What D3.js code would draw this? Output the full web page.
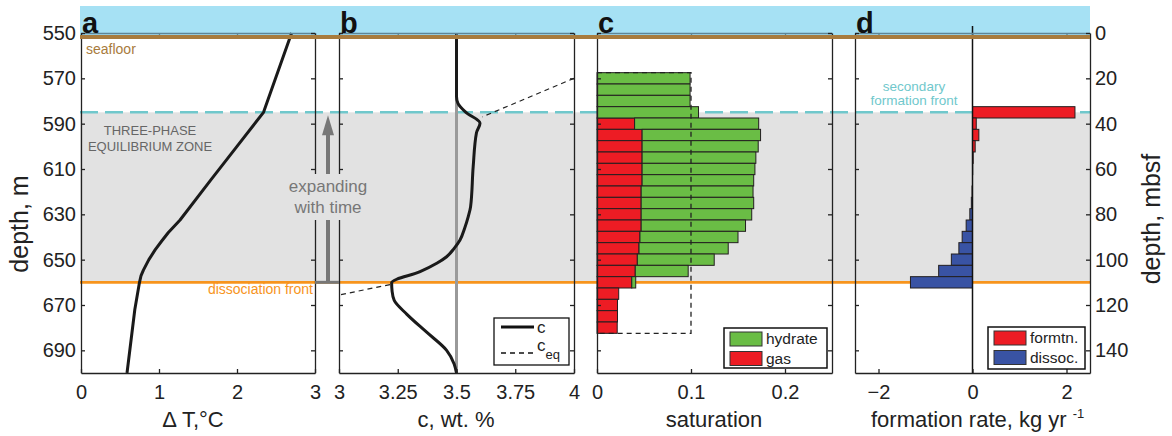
<!DOCTYPE html>
<html>
<head>
<meta charset="utf-8">
<script src="https://cdn.jsdelivr.net/npm/d3@7"></script>
<style>
body { margin: 0; background: #fff; }
svg { display: block; font-family: "Liberation Sans", Arial, Helvetica, sans-serif; }
.axis text { font-size: 20px; fill: #222; font-family: "Liberation Sans", Arial, sans-serif; }
.axis path, .axis line { stroke: #222; stroke-width: 1.3; }
.topaxis path, .topaxis line { stroke: #5e8596; }
</style>
</head>
<body>
<svg width="1172" height="436"></svg>
<script>

// depth axis (m) and the matching mbsf axis
var depthTicks = [550, 570, 590, 610, 630, 650, 670, 690];
var mbsfTicks = [0, 20, 40, 60, 80, 100, 120, 140];
var seafloorDepth = 551.8, secondaryFront = 585, dissocFront = 660;

// panel a: temperature offset
var dtDepth = [550, 585, 600, 615, 632.5, 638, 642, 645.7, 650, 654.6, 657, 660, 672, 700];
var dtValue = [2.70, 2.34, 2.0, 1.66, 1.27, 1.12, 1.03, 0.95, 0.87, 0.80, 0.77, 0.75, 0.69, 0.59];

// panel b: salinity c and equilibrium c_eq
var cDepth = [550, 578, 581, 585, 589.8, 594, 609, 626.6, 631, 636, 641.3, 645, 648.7, 651.6, 655.3, 660.2, 664, 668, 674, 682, 690, 696, 700];
var cValue = [3.5, 3.5, 3.506, 3.54, 3.60, 3.585, 3.571, 3.56, 3.55, 3.535, 3.515, 3.49, 3.458, 3.416, 3.345, 3.224, 3.226, 3.235, 3.288, 3.373, 3.458, 3.49, 3.5];
var ceqDepth = [570, 587, NaN, 661, 665.6];
var ceqValue = [4.0, 3.61, NaN, 3.217, 3.0];
var cInitial = 3.5;

// panel c: saturation per 5 m cell
var barDepth = [570, 575, 580, 585, 590, 595, 600, 605, 610, 615, 620, 625, 630, 635, 640, 645, 650, 655, 660, 665, 670, 675, 680];
var gas = [0, 0, 0, 0, 0.040, 0.048, 0.048, 0.048, 0.048, 0.048, 0.047, 0.047, 0.047, 0.047, 0.0457, 0.0447, 0.0429, 0.0407, 0.037, 0.0231, 0.0218, 0.0218, 0.0215];
var hydrate = [0.099, 0.099, 0.099, 0.108, 0.132, 0.126, 0.1235, 0.121, 0.120, 0.1187, 0.119, 0.1197, 0.1176, 0.111, 0.1043, 0.0949, 0.0818, 0.0563, 0.0042, 0, 0, 0, 0];
var initSat = 0.1, initTop = 567.5, initBottom = 682.5;

// panel d: formation rate per cell
var formRate = [0, 0, 0, 2.18, 0.08, 0.135, 0.057, 0.015, 0.005, 0, -0.01, -0.025, -0.057, -0.135, -0.22, -0.29, -0.45, -0.72, -1.32, 0, 0, 0, 0];

var svg = d3.select("svg");
var cellH = 5;

var y = d3.scaleLinear().domain([550, 700]).range([33, 373]);
var yMbsf = d3.scaleLinear().domain([0, 150]).range([33, 373]);

var xA = d3.scaleLinear().domain([0, 3]).range([81, 315]);
var xB = d3.scaleLinear().domain([3, 4]).range([339, 574]);
var xC = d3.scaleLinear().domain([0, 0.25]).range([597, 832]);
var xD = d3.scaleLinear().domain([-2.5, 2.5]).range([855, 1090]);

var fmt = d3.format("~g");
var left = 80, right = 1090;

// sea water and three-phase zone
svg.append("rect").attr("x", left).attr("y", 6).attr("width", right - left).attr("height", 30)
    .attr("fill", "#a6e1f4");
svg.append("rect").attr("x", left).attr("y", y(secondaryFront))
    .attr("width", right - left).attr("height", y(dissocFront) - y(secondaryFront))
    .attr("fill", "#e2e2e2");

// front lines (behind the data)
svg.append("line").attr("x1", left).attr("x2", right)
    .attr("y1", y(secondaryFront)).attr("y2", y(secondaryFront))
    .attr("stroke", "#70c8cc").attr("stroke-width", 2.5).attr("stroke-dasharray", "18,7");
svg.append("line").attr("x1", left).attr("x2", right)
    .attr("y1", y(dissocFront)).attr("y2", y(dissocFront))
    .attr("stroke", "#f7941d").attr("stroke-width", 2.7);

// axes for one panel
function drawFrame(x, ticks, labels) {
    svg.append("g").attr("class", "axis").attr("transform", "translate(0,373)")
        .call(d3.axisBottom(x).tickValues(ticks).tickSize(-4).tickSizeOuter(0).tickPadding(12)
            .tickFormat(fmt));
    svg.append("g").attr("class", "axis topaxis").attr("transform", "translate(0,33)")
        .call(d3.axisTop(x).tickValues(ticks).tickSize(-4).tickSizeOuter(0).tickFormat(""));
    svg.append("g").attr("class", "axis").attr("transform", "translate(" + x.range()[0] + ",0)")
        .call(d3.axisLeft(y).tickValues(depthTicks).tickSize(-4).tickSizeOuter(0).tickPadding(5)
            .tickFormat(labels === "left" ? fmt : ""));
    var r = svg.append("g").attr("class", "axis").attr("transform", "translate(" + x.range()[1] + ",0)");
    if (labels === "right") {
        r.call(d3.axisRight(yMbsf).tickValues(mbsfTicks).tickSize(-4).tickSizeOuter(0).tickPadding(5));
    } else {
        r.call(d3.axisRight(y).tickValues(depthTicks).tickSize(-4).tickSizeOuter(0).tickFormat(""));
    }
}

// ---- panel a
svg.append("path")
    .datum(dtDepth.map(function (d, i) { return [dtValue[i], d]; }))
    .attr("fill", "none").attr("stroke", "#1a1a1a").attr("stroke-width", 3).attr("stroke-linejoin", "round")
    .attr("d", d3.line()
        .x(function (d) { return xA(d[0]); }).y(function (d) { return y(d[1]); }));
drawFrame(xA, [0, 1, 2, 3], "left");

// ---- panel b
svg.append("line").attr("x1", xB(cInitial)).attr("x2", xB(cInitial)).attr("y1", 33).attr("y2", 373)
    .attr("stroke", "#9a9a9a").attr("stroke-width", 3);
svg.append("path")
    .datum(ceqDepth.map(function (d, i) { return [ceqValue[i], d]; }))
    .attr("fill", "none").attr("stroke", "#222").attr("stroke-width", 1.2).attr("stroke-dasharray", "5,4")
    .attr("d", d3.line().defined(function (d) { return !isNaN(d[1]); })
        .x(function (d) { return xB(d[0]); }).y(function (d) { return y(d[1]); }));
svg.append("path")
    .datum(cDepth.map(function (d, i) { return [cValue[i], d]; }))
    .attr("fill", "none").attr("stroke", "#1a1a1a").attr("stroke-width", 3)
    .attr("d", d3.line().curve(d3.curveMonotoneY)
        .x(function (d) { return xB(d[0]); }).y(function (d) { return y(d[1]); }));
drawFrame(xB, [3, 3.25, 3.5, 3.75, 4], "none");

// ---- panel c
var cells = barDepth.map(function (d, i) { return { depth: d, gas: gas[i], hyd: hydrate[i], rate: formRate[i] }; });
svg.append("g").selectAll("rect").data(cells.filter(function (d) { return d.gas > 0; }))
    .enter().append("rect")
    .attr("x", xC(0)).attr("y", function (d) { return y(d.depth - cellH / 2); })
    .attr("width", function (d) { return xC(d.gas) - xC(0); })
    .attr("height", function (d) { return y(d.depth + cellH / 2) - y(d.depth - cellH / 2); })
    .attr("fill", "#ed1c24").attr("stroke", "#231f20").attr("stroke-width", 1);
svg.append("g").selectAll("rect").data(cells.filter(function (d) { return d.hyd > 0; }))
    .enter().append("rect")
    .attr("x", function (d) { return xC(d.gas); }).attr("y", function (d) { return y(d.depth - cellH / 2); })
    .attr("width", function (d) { return xC(d.gas + d.hyd) - xC(d.gas); })
    .attr("height", function (d) { return y(d.depth + cellH / 2) - y(d.depth - cellH / 2); })
    .attr("fill", "#6abd45").attr("stroke", "#231f20").attr("stroke-width", 1);
svg.append("path")
    .attr("d", "M" + xC(0) + "," + y(initTop) + "H" + xC(initSat) + "V" + y(initBottom) + "H" + xC(0))
    .attr("fill", "none").attr("stroke", "#222").attr("stroke-width", 1.3).attr("stroke-dasharray", "5,4");
drawFrame(xC, [0, 0.1, 0.2], "none");

// ---- panel d
svg.append("g").selectAll("rect").data(cells.filter(function (d) { return d.rate !== 0; }))
    .enter().append("rect")
    .attr("x", function (d) { return xD(Math.min(0, d.rate)); })
    .attr("y", function (d) { return y(d.depth - cellH / 2); })
    .attr("width", function (d) { return Math.abs(xD(d.rate) - xD(0)); })
    .attr("height", function (d) { return y(d.depth + cellH / 2) - y(d.depth - cellH / 2); })
    .attr("fill", function (d) { return d.rate > 0 ? "#ed1c24" : "#3953a4"; })
    .attr("stroke", "#231f20").attr("stroke-width", 1);
svg.append("line").attr("x1", xD(0)).attr("x2", xD(0)).attr("y1", 26).attr("y2", 373)
    .attr("stroke", "#111").attr("stroke-width", 1.5);
drawFrame(xD, [-2, 0, 2], "right");

// seafloor
svg.append("line").attr("x1", left).attr("x2", right)
    .attr("y1", y(seafloorDepth)).attr("y2", y(seafloorDepth))
    .attr("stroke", "#a87b3d").attr("stroke-width", 4);

// "expanding with time" arrow between a and b
var ax = 328;
svg.append("line").attr("x1", ax).attr("x2", ax).attr("y1", y(dissocFront)).attr("y2", y(secondaryFront) + 20)
    .attr("stroke", "#777").attr("stroke-width", 4);
svg.append("path")
    .attr("d", "M" + ax + "," + (y(secondaryFront) + 3) + "l-6,20h12z")
    .attr("fill", "#777");
svg.append("line").attr("x1", xA(3)).attr("x2", xB(3)).attr("y1", y(dissocFront)).attr("y2", y(dissocFront))
    .attr("stroke", "#777").attr("stroke-width", 3);
svg.append("rect").attr("x", 286).attr("y", 174).attr("width", 84).attr("height", 46)
    .attr("fill", "#e2e2e2");
svg.append("text").attr("x", ax).attr("y", 192).attr("text-anchor", "middle")
    .attr("font-size", "17px").attr("fill", "#777").text("expanding");
svg.append("text").attr("x", ax).attr("y", 213).attr("text-anchor", "middle")
    .attr("font-size", "17px").attr("fill", "#777").text("with time");

// annotations
svg.append("text").attr("x", 86).attr("y", 53.5).attr("font-size", "14px").attr("fill", "#a87b3d").text("seafloor");
svg.append("text").attr("x", 150).attr("y", 135).attr("text-anchor", "middle")
    .attr("font-size", "13px").attr("fill", "#666").text("THREE-PHASE");
svg.append("text").attr("x", 150).attr("y", 151).attr("text-anchor", "middle")
    .attr("font-size", "13px").attr("fill", "#666").text("EQUILIBRIUM ZONE");
svg.append("text").attr("x", 313).attr("y", 294).attr("text-anchor", "end")
    .attr("font-size", "14px").attr("fill", "#f7941d").text("dissociation front");
svg.append("text").attr("x", 914).attr("y", 90.5).attr("text-anchor", "middle")
    .attr("font-size", "13.5px").attr("fill", "#70c8cc").text("secondary");
svg.append("text").attr("x", 914).attr("y", 105).attr("text-anchor", "middle")
    .attr("font-size", "13.5px").attr("fill", "#70c8cc").text("formation front");

// panel letters
[["a", xA], ["b", xB], ["c", xC], ["d", xD]].forEach(function (p) {
    svg.append("text").attr("x", p[1].range()[0] + 1).attr("y", 33)
        .attr("font-size", "29px").attr("font-weight", "bold").attr("fill", "#111").text(p[0]);
});

// axis titles
svg.append("text").attr("transform", "translate(28,224) rotate(-90)").attr("text-anchor", "middle")
    .attr("font-size", "25px").attr("fill", "#222").text("depth, m");
svg.append("text").attr("transform", "translate(1160,219) rotate(-90)").attr("text-anchor", "middle")
    .attr("font-size", "25px").attr("fill", "#222").text("depth, mbsf");
svg.append("text").attr("x", 193).attr("y", 427).attr("text-anchor", "middle")
    .attr("font-size", "22px").attr("fill", "#222").text("\u0394 T,\u00b0C");
svg.append("text").attr("x", 456).attr("y", 427).attr("text-anchor", "middle")
    .attr("font-size", "22px").attr("fill", "#222").text("c, wt. %");
svg.append("text").attr("x", 714).attr("y", 427).attr("text-anchor", "middle")
    .attr("font-size", "22px").attr("fill", "#222").text("saturation");
var fr = svg.append("text").attr("x", 871).attr("y", 427)
    .attr("font-size", "22px").attr("fill", "#222");
fr.append("tspan").text("formation rate, kg yr ");
fr.append("tspan").attr("font-size", "13px").attr("dy", -9).text("-1");

// legend b
var lb = svg.append("g");
lb.append("rect").attr("x", 494).attr("y", 318).attr("width", 75).attr("height", 47)
    .attr("fill", "#fff").attr("stroke", "#111").attr("stroke-width", 1.3);
lb.append("line").attr("x1", 501).attr("x2", 534).attr("y1", 327).attr("y2", 327)
    .attr("stroke", "#111").attr("stroke-width", 3);
lb.append("line").attr("x1", 501).attr("x2", 534).attr("y1", 353).attr("y2", 353)
    .attr("stroke", "#111").attr("stroke-width", 1.3).attr("stroke-dasharray", "5,4");
lb.append("text").attr("x", 537).attr("y", 333).attr("font-size", "17px").attr("fill", "#222").text("c");
var ceq = lb.append("text").attr("x", 537).attr("y", 351).attr("font-size", "17px").attr("fill", "#222");
ceq.append("tspan").text("c");
ceq.append("tspan").attr("font-size", "13px").attr("dy", 8).text("eq");

// legend with swatches
function swatchLegend(x0, y0, w, h, items) {
    var g = svg.append("g");
    g.append("rect").attr("x", x0).attr("y", y0).attr("width", w).attr("height", h)
        .attr("fill", "#fff").attr("stroke", "#111").attr("stroke-width", 1.5);
    items.forEach(function (it, i) {
        g.append("rect").attr("x", x0 + 6).attr("y", y0 + 4 + i * 19.5).attr("width", 32).attr("height", 14)
            .attr("fill", it[1]).attr("stroke", "#333").attr("stroke-width", 1);
        g.append("text").attr("x", x0 + 42).attr("y", y0 + 16 + i * 19.5)
            .attr("font-size", "15.5px").attr("fill", "#222").text(it[0]);
    });
}
swatchLegend(724, 328, 103, 40, [["hydrate", "#6abd45"], ["gas", "#ed1c24"]]);
swatchLegend(988, 327, 97, 42, [["formtn.", "#ed1c24"], ["dissoc.", "#3953a4"]]);

</script>
</body>
</html>
